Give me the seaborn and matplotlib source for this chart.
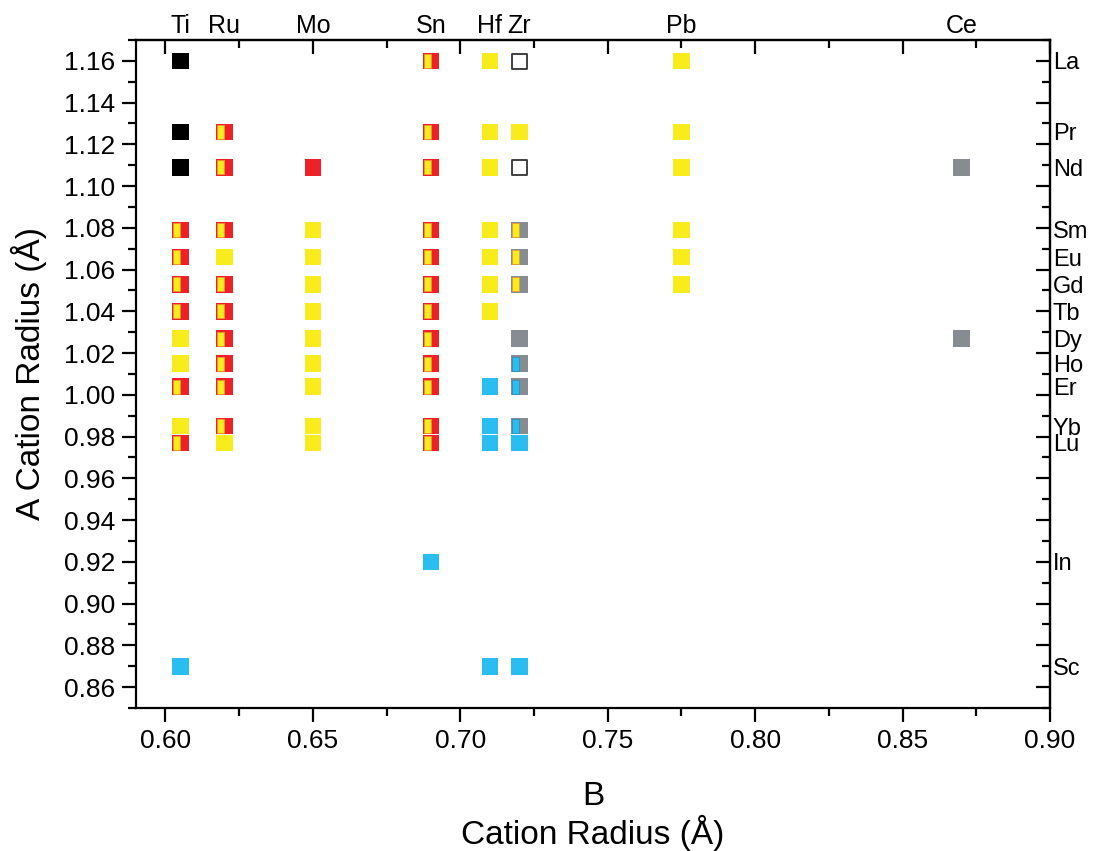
import numpy as np
import pandas as pd
import matplotlib
matplotlib.use("Agg")
import matplotlib.pyplot as plt
import seaborn as sns
from matplotlib.path import Path
from matplotlib.ticker import MultipleLocator, NullFormatter, NullLocator, FormatStrFormatter

# ---------------- data ----------------
a_cations = ['La', 'Pr', 'Nd', 'Sm', 'Eu', 'Gd', 'Tb', 'Dy', 'Ho', 'Er', 'Yb', 'Lu', 'In', 'Sc']
a_radius = [1.160, 1.126, 1.109, 1.079, 1.066, 1.053, 1.040, 1.027, 1.015, 1.004, 0.985, 0.977, 0.920, 0.870]

b_cations = ['Ti', 'Ru', 'Mo', 'Sn', 'Hf', 'Zr', 'Pb', 'Ce']
b_radius = [0.605, 0.620, 0.650, 0.690, 0.710, 0.720, 0.775, 0.870]

# phase codes: K black, Y yellow, R red, B blue, G gray, O open,
# RY red with yellow stripe, GY gray with yellow stripe, GB gray with blue stripe
#            La    Pr    Nd    Sm    Eu    Gd    Tb    Dy    Ho    Er    Yb    Lu    In   Sc
ti_phase = ['K',  'K',  'K',  'RY', 'RY', 'RY', 'RY', 'Y',  'Y',  'RY', 'Y',  'RY', '',  'B']
ru_phase = ['',   'RY', 'RY', 'RY', 'Y',  'RY', 'RY', 'RY', 'RY', 'RY', 'RY', 'Y',  '',  '']
mo_phase = ['',   '',   'R',  'Y',  'Y',  'Y',  'Y',  'Y',  'Y',  'Y',  'Y',  'Y',  '',  '']
sn_phase = ['RY', 'RY', 'RY', 'RY', 'RY', 'RY', 'RY', 'RY', 'RY', 'RY', 'RY', 'RY', 'B', '']
hf_phase = ['Y',  'Y',  'Y',  'Y',  'Y',  'Y',  'Y',  '',   '',   'B',  'B',  'B',  '',  'B']
zr_phase = ['O',  'Y',  'O',  'GY', 'GY', 'GY', '',   'G',  'GB', 'GB', 'GB', 'B',  '',  'B']
pb_phase = ['Y',  'Y',  'Y',  'Y',  'Y',  'Y',  '',   '',   '',   '',   '',   '',   '',  '']
ce_phase = ['',   '',   'G',  '',   '',   '',   '',   'G',  '',   '',   '',   '',   '',  '']
phase_table = [ti_phase, ru_phase, mo_phase, sn_phase, hf_phase, zr_phase, pb_phase, ce_phase]

# ---------------- styles ----------------
base_of = {'K': 'K', 'Y': 'Y', 'R': 'R', 'B': 'B', 'G': 'G', 'O': 'O',
           'RY': 'R', 'GY': 'G', 'GB': 'G'}
stripe_of = {'RY': 'Y', 'GY': 'Y', 'GB': 'B'}
colors = {'K': '#000000', 'Y': '#F8EC1D', 'R': '#EE2129', 'B': '#2ABDF0', 'G': '#878B92'}
stripe_edges = {'Y': '#F0962A', 'B': '#1E8FC0'}

rows = []
for b, br, phases in zip(b_cations, b_radius, phase_table):
    for a, ar, p in zip(a_cations, a_radius, phases):
        if p:
            rows.append({'B': b, 'b_r': br, 'A': a, 'a_r': ar, 'phase': p,
                         'base': base_of[p], 'stripe': stripe_of.get(p, '')})
df = pd.DataFrame(rows)

sns.set_theme(style='ticks')
plt.rcParams['font.family'] = ['Liberation Sans', 'DejaVu Sans']
plt.rcParams['text.color'] = 'black'
plt.rcParams['axes.labelcolor'] = 'black'

fig = plt.figure(figsize=(10.94, 8.51), dpi=100)
ax = fig.add_axes([136 / 1094, 1 - 708 / 851, (1050 - 136) / 1094, (708 - 40) / 851])

side_px = 16.6
s_sq = (side_px * 0.72) ** 2

filled = df[df['base'] != 'O']
sns.scatterplot(data=filled, x='b_r', y='a_r', hue='base', palette=colors, marker='s',
                s=s_sq, linewidth=0, legend=False, ax=ax, zorder=3)

opened = df[df['base'] == 'O']
sns.scatterplot(data=opened, x='b_r', y='a_r', marker='s', s=((side_px - 1.6) * 0.72) ** 2,
                facecolor='white', edgecolor='#333333', linewidth=1.3, legend=False, ax=ax, zorder=3)

stripe_path = Path([(-0.955, -1.0), (-0.03, -1.0), (-0.03, 1.0), (-0.955, 1.0), (-0.955, -1.0)],
                   [Path.MOVETO, Path.LINETO, Path.LINETO, Path.LINETO, Path.CLOSEPOLY])
for key, edge in stripe_edges.items():
    part = df[df['stripe'] == key]
    sns.scatterplot(data=part, x='b_r', y='a_r', color=colors[key], marker=stripe_path,
                    s=s_sq * 0.88 ** 2, edgecolor=edge, linewidth=0.5, legend=False, ax=ax, zorder=4)

# ---------------- axes ----------------
ax.set_xlim(0.59, 0.90)
ax.set_ylim(0.85, 1.17)
ax.xaxis.set_major_locator(MultipleLocator(0.05))
ax.xaxis.set_minor_locator(MultipleLocator(0.025))
ax.yaxis.set_major_locator(MultipleLocator(0.02))
ax.yaxis.set_minor_locator(MultipleLocator(0.01))
ax.xaxis.set_major_formatter(FormatStrFormatter('%.2f'))
ax.yaxis.set_major_formatter(FormatStrFormatter('%.2f'))
ax.tick_params(axis='both', which='major', direction='out', length=10, width=1.6,
               labelsize=19, pad=5, color='black', labelcolor='black')
ax.tick_params(axis='both', which='minor', direction='out', length=5.5, width=1.6, color='black')
for sp in ax.spines.values():
    sp.set_visible(True)
    sp.set_linewidth(1.6)
    sp.set_color('black')

# mirrored inward ticks on top/right
top = ax.secondary_xaxis('top')
top.xaxis.set_major_locator(MultipleLocator(0.05))
top.xaxis.set_minor_locator(MultipleLocator(0.025))
top.xaxis.set_major_formatter(NullFormatter())
top.tick_params(which='major', direction='in', length=10, width=1.6, color='black')
top.tick_params(which='minor', direction='in', length=5.5, width=1.6, color='black')
top.spines['top'].set_linewidth(1.6)

right = ax.secondary_yaxis('right')
right.yaxis.set_major_locator(MultipleLocator(0.02))
right.yaxis.set_minor_locator(MultipleLocator(0.01))
right.yaxis.set_major_formatter(NullFormatter())
right.tick_params(which='major', direction='in', length=10, width=1.6, color='black')
right.tick_params(which='minor', direction='in', length=5.5, width=1.6, color='black')
right.spines['right'].set_linewidth(1.6)

# element labels
top_lab = ax.secondary_xaxis('top')
top_lab.set_xticks(b_radius, labels=b_cations)
top_lab.xaxis.set_minor_locator(NullLocator())
top_lab.tick_params(length=0, pad=1.5, labelsize=18, labelcolor='black')
top_lab.spines['top'].set_visible(False)

right_lab = ax.secondary_yaxis('right')
right_lab.set_yticks(a_radius, labels=a_cations)
right_lab.yaxis.set_minor_locator(NullLocator())
right_lab.tick_params(length=0, pad=2, labelsize=17, labelcolor='black')
right_lab.spines['right'].set_visible(False)

ax.set_xlabel('B\nCation Radius (Å)', fontsize=24, labelpad=20, linespacing=1.1)
ax.set_ylabel('A Cation Radius (Å)', fontsize=24, labelpad=12)

fig.savefig('out.png', dpi=100)
